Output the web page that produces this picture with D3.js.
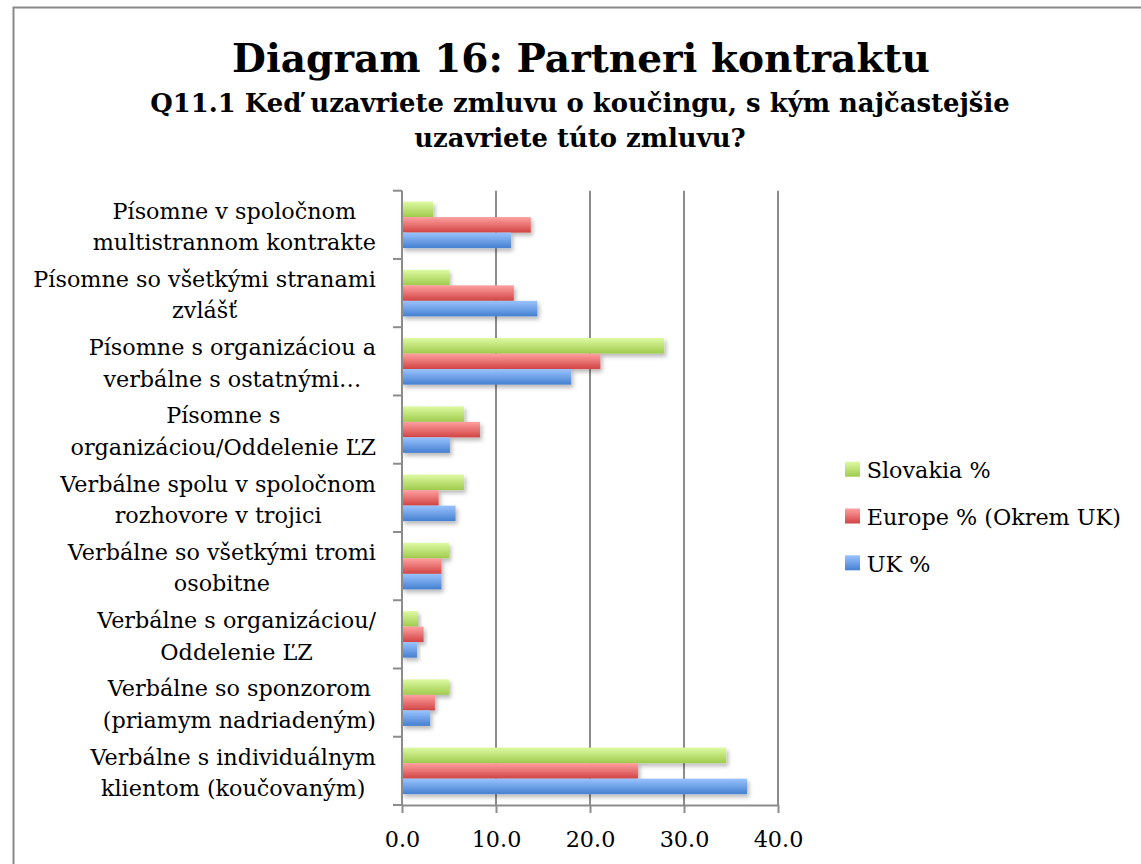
<!DOCTYPE html>
<html>
<head>
<meta charset="utf-8">
<script src="https://cdn.jsdelivr.net/npm/d3@7"></script>
<style>
  html, body { margin: 0; padding: 0; background: #fff; }
  svg { display: block; }
</style>
</head>
<body>
<svg id="chart" width="1141" height="864"></svg>
<script>
const categories = [
  ["Písomne v spoločnom", "multistrannom kontrakte"],
  ["Písomne so všetkými stranami", "zvlášť"],
  ["Písomne s organizáciou a", "verbálne s ostatnými…"],
  ["Písomne s", "organizáciou/Oddelenie ĽZ"],
  ["Verbálne spolu v spoločnom", "rozhovore v trojici"],
  ["Verbálne so všetkými tromi", "osobitne"],
  ["Verbálne s organizáciou/", "Oddelenie ĽZ"],
  ["Verbálne so sponzorom", "(priamym nadriadeným)"],
  ["Verbálne s individuálnym", "klientom (koučovaným)"]
];
const seriesNames = ["Slovakia %", "Europe % (Okrem UK)", "UK %"];
const slovakia = [3.3, 5.0, 27.9, 6.6, 6.6, 5.0, 1.7, 5.0, 34.5];
const europe   = [13.7, 11.9, 21.1, 8.3, 3.9, 4.2, 2.3, 3.5, 25.1];
const uk       = [11.6, 14.4, 18.0, 5.1, 5.7, 4.2, 1.6, 3.0, 36.7];
const xTicks = [0, 10, 20, 30, 40];
const titleText = "Diagram 16: Partneri kontraktu";
const subtitleLines = ["Q11.1 Keď uzavriete zmluvu o koučingu, s kým najčastejšie", "uzavriete túto zmluvu?"];

const seriesValues = [slovakia, europe, uk];
const gradStops = [
  ["#ddfaa2", "#9fcb4c"],
  ["#ffa0a0", "#d24444"],
  ["#9ac3ff", "#4580d0"]
];

const FONT = "'DejaVu Serif', 'Liberation Serif', serif";
const svg = d3.select("#chart");

// defs
const defs = svg.append("defs");
gradStops.forEach((s, i) => {
  const g = defs.append("linearGradient").attr("id", "grad" + i)
    .attr("x1", 0).attr("y1", 0).attr("x2", 0).attr("y2", 1);
  g.append("stop").attr("offset", "0%").attr("stop-color", s[0]);
  g.append("stop").attr("offset", "100%").attr("stop-color", s[1]);
});
const f = defs.append("filter").attr("id", "shadow")
  .attr("x", "-10%").attr("y", "-30%").attr("width", "130%").attr("height", "190%");
f.append("feDropShadow").attr("dx", 2).attr("dy", 3).attr("stdDeviation", 2.2)
  .attr("flood-color", "#000").attr("flood-opacity", 0.28);

// frame
svg.append("rect").attr("x", 13.5).attr("y", 7.5).attr("width", 1200).attr("height", 1000)
  .attr("fill", "none").attr("stroke", "#898989").attr("stroke-width", 2);

function fit(sel, target) {
  const len = sel.node().getComputedTextLength();
  const size = parseFloat(sel.attr("font-size"));
  const ns = size * target / len;
  sel.attr("font-size", ns);
  return ns;
}

// titles
const t = svg.append("text").attr("x", 581).attr("y", 72).attr("text-anchor", "middle")
  .attr("font-family", FONT).attr("font-weight", "bold").attr("font-size", 40)
  .attr("fill", "#000").text(titleText);
fit(t, 698);
const st1 = svg.append("text").attr("x", 580).attr("y", 112).attr("text-anchor", "middle")
  .attr("font-family", FONT).attr("font-weight", "bold").attr("font-size", 24)
  .attr("fill", "#000").text(subtitleLines[0]);
const subSize = fit(st1, 860);
svg.append("text").attr("x", 580).attr("y", 147).attr("text-anchor", "middle")
  .attr("font-family", FONT).attr("font-weight", "bold").attr("font-size", subSize)
  .attr("fill", "#000").text(subtitleLines[1]);

// scales
const x = d3.scaleLinear().domain([0, 40]).range([402, 778]);
const y = d3.scaleBand().domain(d3.range(categories.length)).range([190.7, 805]).padding(0);
const y1 = d3.scaleBand().domain(d3.range(seriesNames.length)).range([0, y.bandwidth()])
  .paddingInner(0).paddingOuter(0.7);

// measure label font size
const probe = svg.append("text").attr("font-family", FONT).attr("font-size", 22)
  .text("Písomne so všetkými stranami");
const labelSize = fit(probe, 343);
probe.remove();

// gridlines
const grid = svg.append("g");
grid.selectAll("line").data(xTicks.filter(d => d > 0)).enter().append("line")
  .attr("x1", d => x(d)).attr("x2", d => x(d))
  .attr("y1", 190.7).attr("y2", 805)
  .attr("stroke", "#8c8c8c").attr("stroke-width", 2);

// bars
const groups = svg.append("g").selectAll("g").data(categories).enter().append("g")
  .attr("transform", (d, i) => `translate(0,${y(i)})`);
groups.selectAll("rect").data((d, i) => seriesValues.map((s, k) => ({ k, v: s[i] })))
  .enter().append("rect")
  .attr("x", x(0))
  .attr("y", d => y1(d.k))
  .attr("width", d => x(d.v) - x(0))
  .attr("height", y1.bandwidth())
  .attr("fill", d => `url(#grad${d.k})`)
  .attr("filter", "url(#shadow)");

// y axis
const yAxis = d3.axisLeft(y).tickValues([]).tickSizeOuter(0);
const yA = svg.append("g").attr("transform", `translate(${x(0)},0)`);
yA.append("line").attr("x1", 0).attr("x2", 0).attr("y1", 190.7).attr("y2", 805)
  .attr("stroke", "#8c8c8c").attr("stroke-width", 2);
const bounds = d3.range(categories.length + 1).map(i => i < categories.length ? y(i) : y(categories.length - 1) + y.bandwidth());
yA.selectAll(".tk").data(bounds).enter().append("line")
  .attr("x1", -9).attr("x2", 0).attr("y1", d => d).attr("y2", d => d)
  .attr("stroke", "#8c8c8c").attr("stroke-width", 2);

// x axis
const xAxis = d3.axisBottom(x).tickValues(xTicks).tickFormat(d3.format(".1f"))
  .tickSize(8).tickSizeOuter(0).tickPadding(12);
const xA = svg.append("g").attr("transform", `translate(0,805)`).call(xAxis);
xA.select(".domain").attr("stroke", "#8c8c8c").attr("stroke-width", 2);
xA.selectAll(".tick line").attr("stroke", "#8c8c8c").attr("stroke-width", 2);
xA.selectAll(".tick text").attr("font-family", FONT).attr("font-size", labelSize)
  .attr("fill", "#000").attr("dy", null).attr("y", 0)
  .attr("transform", "translate(0,41.5)");

// category labels
const lab = svg.append("g").selectAll("text").data(categories).enter().append("text")
  .attr("font-family", FONT).attr("font-size", labelSize).attr("fill", "#000")
  .attr("text-anchor", "middle");
lab.each(function(d, i) {
  const el = d3.select(this);
  const c = y(i) + y.bandwidth() / 2 + 9.5;
  // measure widest line to center lines like Excel, right-aligned block
  d.forEach((line, j) => {
    el.append("tspan").attr("y", c + (j - 0.5) * 31.5).text(line);
  });
  const tspans = el.selectAll("tspan").nodes();
  const w = d3.max(tspans, n => n.getComputedTextLength());
  const cx = 376 - w / 2;
  el.selectAll("tspan").attr("x", cx);
});

// legend
const leg = svg.append("g").selectAll("g").data(seriesNames).enter().append("g")
  .attr("transform", (d, i) => `translate(845,${461.7 + i * 46.8})`);
leg.append("rect").attr("width", 15).attr("height", 15)
  .attr("fill", (d, i) => `url(#grad${i})`);
leg.append("text").attr("x", 21.7).attr("y", 16.3)
  .attr("font-family", FONT).attr("font-size", labelSize).attr("fill", "#000")
  .text(d => d);
</script>
</body>
</html>
